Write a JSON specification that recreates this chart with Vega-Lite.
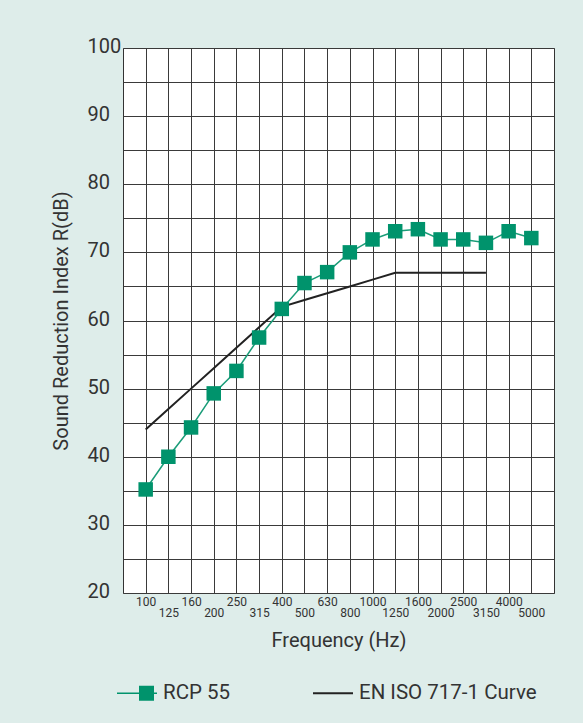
{
  "$schema": "https://vega.github.io/schema/vega-lite/v6.json",
  "width": 431,
  "height": 545,
  "autosize": {"type": "none"},
  "padding": {"left": 123, "top": 48, "right": 29, "bottom": 130},
  "background": "#deedea",
  "config": {
    "view": {"fill": "white", "stroke": "#333333", "strokeWidth": 1},
    "font": "Roboto",
    "legend": {"labelLimit": 400}
  },
  "data": {
    "values": [
      {"f": "100", "series": "RCP 55", "R": 35.2},
      {"f": "125", "series": "RCP 55", "R": 40.0},
      {"f": "160", "series": "RCP 55", "R": 44.3},
      {"f": "200", "series": "RCP 55", "R": 49.3},
      {"f": "250", "series": "RCP 55", "R": 52.6},
      {"f": "315", "series": "RCP 55", "R": 57.5},
      {"f": "400", "series": "RCP 55", "R": 61.7},
      {"f": "500", "series": "RCP 55", "R": 65.5},
      {"f": "630", "series": "RCP 55", "R": 67.1},
      {"f": "800", "series": "RCP 55", "R": 70.0},
      {"f": "1000", "series": "RCP 55", "R": 71.9},
      {"f": "1250", "series": "RCP 55", "R": 73.1},
      {"f": "1600", "series": "RCP 55", "R": 73.4},
      {"f": "2000", "series": "RCP 55", "R": 71.9},
      {"f": "2500", "series": "RCP 55", "R": 71.9},
      {"f": "3150", "series": "RCP 55", "R": 71.4},
      {"f": "4000", "series": "RCP 55", "R": 73.1},
      {"f": "5000", "series": "RCP 55", "R": 72.1},
      {"f": "100", "series": "EN ISO 717-1 Curve", "R": 44},
      {"f": "125", "series": "EN ISO 717-1 Curve", "R": 47},
      {"f": "160", "series": "EN ISO 717-1 Curve", "R": 50},
      {"f": "200", "series": "EN ISO 717-1 Curve", "R": 53},
      {"f": "250", "series": "EN ISO 717-1 Curve", "R": 56},
      {"f": "315", "series": "EN ISO 717-1 Curve", "R": 59},
      {"f": "400", "series": "EN ISO 717-1 Curve", "R": 62},
      {"f": "500", "series": "EN ISO 717-1 Curve", "R": 63},
      {"f": "630", "series": "EN ISO 717-1 Curve", "R": 64},
      {"f": "800", "series": "EN ISO 717-1 Curve", "R": 65},
      {"f": "1000", "series": "EN ISO 717-1 Curve", "R": 66},
      {"f": "1250", "series": "EN ISO 717-1 Curve", "R": 67},
      {"f": "1600", "series": "EN ISO 717-1 Curve", "R": 67},
      {"f": "2000", "series": "EN ISO 717-1 Curve", "R": 67},
      {"f": "2500", "series": "EN ISO 717-1 Curve", "R": 67},
      {"f": "3150", "series": "EN ISO 717-1 Curve", "R": 67}
    ]
  },
  "encoding": {
    "x": {
      "field": "f",
      "type": "ordinal",
      "scale": {
        "type": "point",
        "padding": 1,
        "domain": ["100","125","160","200","250","315","400","500","630","800","1000","1250","1600","2000","2500","3150","4000","5000"]
      },
      "axis": {
        "title": "Frequency (Hz)",
        "labelAngle": 0,
        "labelOverlap": false,
        "ticks": false,
        "domain": false,
        "grid": true,
        "gridColor": "#3a3a3a",
        "gridOpacity": 1,
        "labelFontSize": 12,
        "labelColor": "#333333",
        "labelPadding": {
          "condition": {"test": "indexof(['125','200','315','500','800','1250','2000','3150','5000'], datum.value) >= 0", "value": 14},
          "value": 3
        },
        "titleFontSize": 20,
        "titleFontWeight": "normal",
        "titleColor": "#333333",
        "titlePadding": 12
      }
    },
    "y": {
      "field": "R",
      "type": "quantitative",
      "scale": {"domain": [20, 100], "nice": false, "zero": false},
      "axis": {
        "values": [20, 25, 30, 35, 40, 45, 50, 55, 60, 65, 70, 75, 80, 85, 90, 95, 100],
        "labelExpr": "datum.value % 10 == 0 ? datum.label : ''",
        "ticks": false,
        "domain": false,
        "grid": true,
        "gridColor": "#3a3a3a",
        "gridOpacity": 1,
        "labelAlign": "left",
        "labelBaseline": "alphabetic",
        "labelOffset": 4.5,
        "labelPadding": 36,
        "labelFontSize": 20,
        "labelColor": "#333333",
        "labelFlush": false,
        "title": "Sound Reduction Index R(dB)",
        "titleFontSize": 20,
        "titleFontWeight": "normal",
        "titleColor": "#333333",
        "titlePadding": 16
      }
    }
  },
  "layer": [
    {
      "transform": [{"filter": "datum.series == 'EN ISO 717-1 Curve'"}],
      "mark": {"type": "line", "color": "#222222", "strokeWidth": 2}
    },
    {
      "transform": [{"filter": "datum.series == 'RCP 55'"}],
      "mark": {"type": "line", "color": "#1a9c78", "strokeWidth": 1.5}
    },
    {
      "transform": [{"filter": "datum.series == 'RCP 55'"}],
      "mark": {"type": "point", "shape": "square", "filled": true, "opacity": 1, "size": 210, "color": "#00936c"}
    },
    {
      "transform": [{"filter": "false"}],
      "mark": {"type": "point", "filled": true, "opacity": 1},
      "encoding": {
        "color": {
          "field": "series",
          "type": "nominal",
          "scale": {"domain": ["RCP 55", "EN ISO 717-1 Curve"], "range": ["#00936c", "#222222"]},
          "legend": {
            "orient": "none",
            "legendX": -6,
            "legendY": 625,
            "direction": "horizontal",
            "title": null,
            "padding": 0,
            "symbolSize": 1600,
            "symbolStrokeWidth": 0,
            "labelFontSize": 20.5,
            "labelColor": "#333333",
            "labelOffset": 6,
            "labelLimit": 400,
            "columnPadding": 82
          }
        },
        "shape": {
          "field": "series",
          "type": "nominal",
          "scale": {
            "domain": ["RCP 55", "EN ISO 717-1 Curve"],
            "range": ["M-1,-0.04H0.1V-0.375H0.85V-0.04H1V0.04H0.85V0.375H0.1V0.04H-1Z", "M-1,-0.05H1V0.05H-1Z"]
          },
          "legend": {
            "orient": "none",
            "legendX": -6,
            "legendY": 625,
            "direction": "horizontal",
            "title": null,
            "padding": 0,
            "symbolSize": 1600,
            "symbolStrokeWidth": 0,
            "labelFontSize": 20.5,
            "labelColor": "#333333",
            "labelOffset": 6,
            "labelLimit": 400,
            "columnPadding": 82
          }
        }
      }
    }
  ]
}
